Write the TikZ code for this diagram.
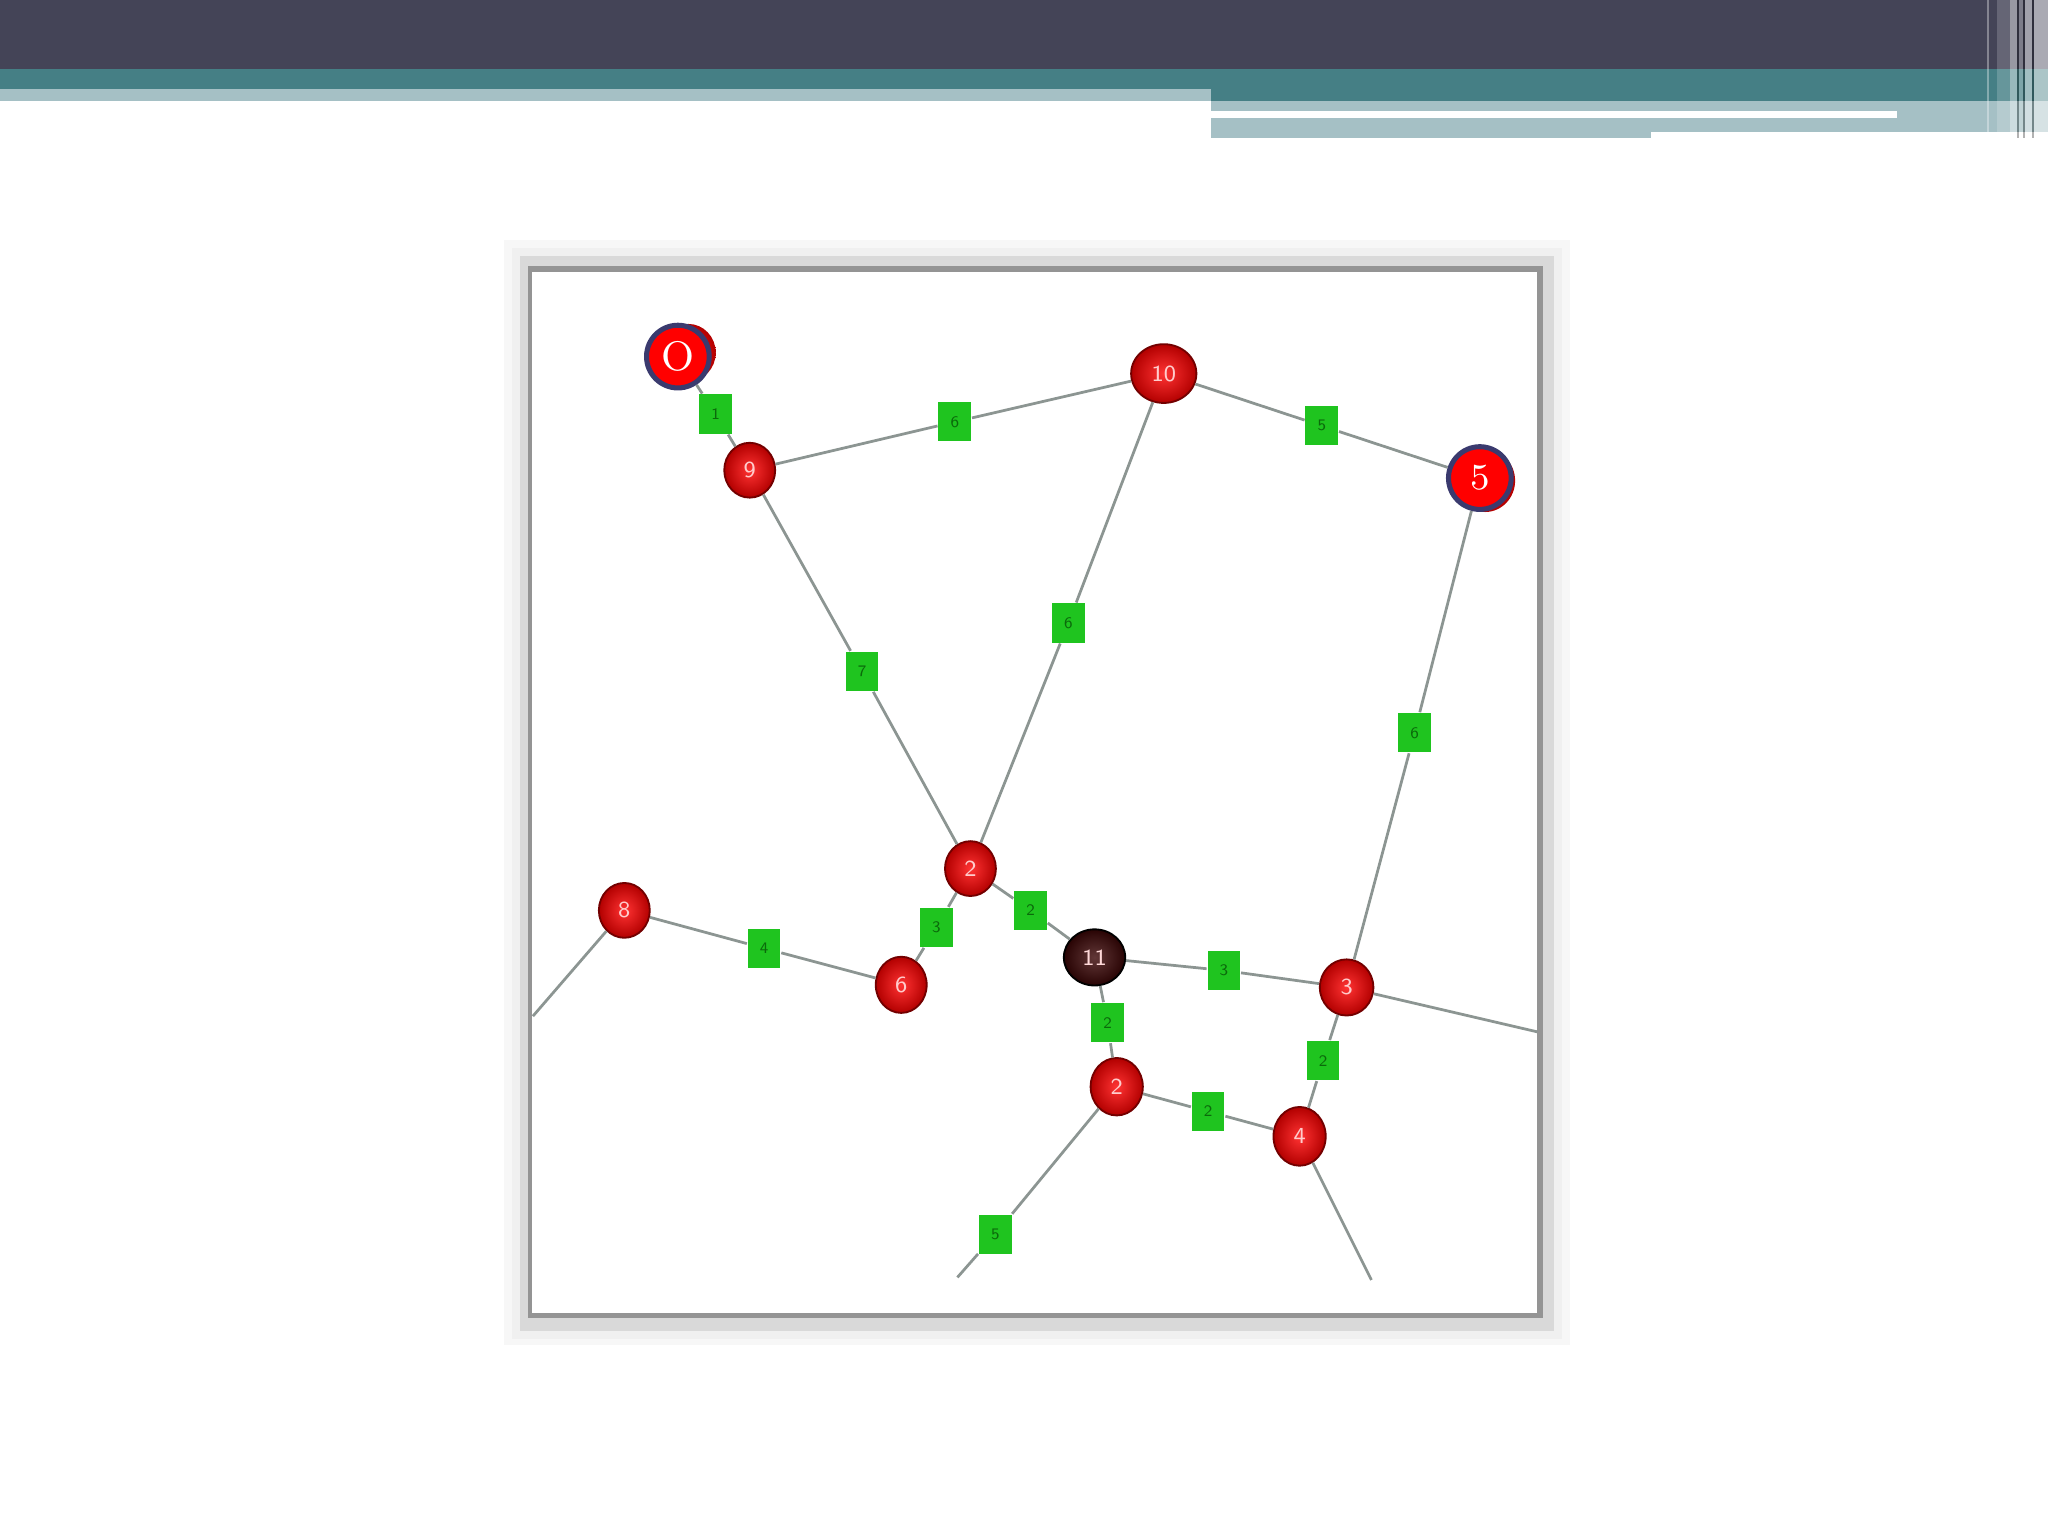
\documentclass[tikz,border=0pt]{standalone}
\usetikzlibrary{shapes.geometric}
\definecolor{hdark}{HTML}{444457}
\definecolor{hteal}{HTML}{457F85}
\definecolor{hlight}{HTML}{A5C0C5}
\definecolor{edgegray}{HTML}{8C9592}
\definecolor{gfill}{HTML}{1FC41F}
\definecolor{gtext}{HTML}{0B6A0B}
\definecolor{navy}{HTML}{3A3A6E}
\definecolor{maroonball}{HTML}{3A0505}
\begin{document}
\begin{tikzpicture}[x=0.1mm,y=-0.1mm,
  ball/.style={ellipse, inner sep=0pt, minimum width=3.9mm, minimum height=4.2mm,
    draw=red!45!black, line width=0.4pt, shading=radial,
    inner color=red!80!white, outer color=red!70!black,
    text=red!20!white, font=\sffamily\fontsize{5}{5}\selectfont},
  darkball/.style={ball, inner color=maroonball!80!white, outer color=maroonball!70!black,
    draw=black, text=red!15!white},
  hiddenball/.style={ellipse, inner sep=0pt, shading=radial,
    inner color=red!90!white, outer color=red!70!black},
  overball/.style={circle, inner sep=0pt, minimum size=4.8mm, fill=red, draw=navy,
    line width=1.1pt, text=white, font=\fontsize{9}{9}\selectfont},
  gbox/.style={rectangle, inner sep=0pt, minimum width=2.5mm, minimum height=3mm,
    fill=gfill, text=gtext, font=\sffamily\fontsize{3.5}{3.5}\selectfont},
  link/.style={draw=edgegray, line width=0.6pt}
]
\useasboundingbox (0,0) rectangle (1568,1176);
\fill[white] (0,0) rectangle (1568,1176);
% ---------- header ----------
\fill[hdark] (0,0) rectangle (1568,53);
\fill[hteal] (0,53) rectangle (1568,68);
\fill[hteal] (927,68) rectangle (1568,77);
\fill[hlight] (0,68) rectangle (927,77);
\fill[hlight] (927,77) rectangle (1568,101);
\fill[hlight] (927,101) rectangle (1264,106);
\fill[white] (927,85) rectangle (1452,90);
% right-hand stripes
\fill[white,opacity=0.35] (1521,0) rectangle (1523,106);
\fill[white,opacity=0.18] (1529,0) rectangle (1539,106);
\fill[white,opacity=0.45] (1539,0) rectangle (1544,106);
\fill[black,opacity=0.30] (1544,0) rectangle (1545.5,106);
\fill[white,opacity=0.30] (1545.5,0) rectangle (1549,106);
\fill[black,opacity=0.30] (1549,0) rectangle (1550.5,106);
\fill[white,opacity=0.50] (1550.5,0) rectangle (1556,106);
\fill[black,opacity=0.30] (1556,0) rectangle (1557,106);
\fill[white,opacity=0.55] (1557,0) rectangle (1568,106);
% ---------- picture frame ----------
\fill[black!3] (386,184) rectangle (1202,1030);
\fill[black!6] (392,190) rectangle (1196,1025);
\fill[black!15] (398,196) rectangle (1190,1019);
\fill[black!42] (404,204) rectangle (1181,1009);
\fill[white] (407,208) rectangle (1177,1005);
% ---------- hidden balls under the overlays ----------
\node[hiddenball, minimum width=4.2mm, minimum height=4.4mm] (hO) at (527,270) {};
\node[hiddenball, minimum width=4.6mm, minimum height=4.8mm] (h5) at (1137,368) {};
% ---------- vertices ----------
\node[overball] (nO) at (519,273) {O};
\node[overball, font=\fontsize{8}{8}\selectfont] (n5) at (1133,366) {5};
\node[ball] (n9) at (574,360) {9};
\node[ball, minimum width=5mm, minimum height=4.5mm] (n10) at (891,286) {10};
\node[ball] (n2a) at (743,665) {2};
\node[ball] (n8) at (478,697) {8};
\node[ball, minimum height=4.3mm] (n6) at (690,754) {6};
\node[darkball, minimum width=4.7mm, minimum height=4.3mm] (n11) at (838,733) {11};
\node[ball, minimum width=4.1mm, minimum height=4.3mm] (n3) at (1031,756) {3};
\node[ball, minimum width=4mm, minimum height=4.4mm] (n2b) at (855,832) {2};
\node[ball, minimum width=4mm, minimum height=4.5mm] (n4) at (995,870) {4};
% ---------- edge weights ----------
\node[gbox] (g1) at (548,317) {1};
\node[gbox] (g2) at (731,323) {6};
\node[gbox] (g3) at (1012,326) {5};
\node[gbox] (g4) at (818,477) {6};
\node[gbox] (g5) at (660,514) {7};
\node[gbox] (g6) at (1083,561) {6};
\node[gbox] (g7) at (717,710) {3};
\node[gbox] (g8) at (789,697) {2};
\node[gbox] (g9) at (585,726) {4};
\node[gbox] (g10) at (937,743) {3};
\node[gbox] (g11) at (848,783) {2};
\node[gbox] (g12) at (1013,812) {2};
\node[gbox] (g13) at (925,851) {2};
\node[gbox] (g14) at (762,945) {5};
% ---------- loose ends ----------
\coordinate (c8) at (408,778);
\coordinate (c3) at (1177,790);
\coordinate (c2b) at (733,978);
\coordinate (c4) at (1050,980);
% ---------- edges ----------
\draw[link] (nO) -- (g1) -- (n9);
\draw[link] (n9) -- (g2) -- (n10);
\draw[link] (n10) -- (g3) -- (n5);
\draw[link] (n10) -- (g4) -- (n2a);
\draw[link] (n9) -- (g5) -- (n2a);
\draw[link] (n5) -- (g6) -- (n3);
\draw[link] (n2a) -- (g7) -- (n6);
\draw[link] (n2a) -- (g8) -- (n11);
\draw[link] (n8) -- (g9) -- (n6);
\draw[link] (n11) -- (g10) -- (n3);
\draw[link] (n11) -- (g11) -- (n2b);
\draw[link] (n3) -- (g12) -- (n4);
\draw[link] (n2b) -- (g13) -- (n4);
\draw[link] (n2b) -- (g14) -- (c2b);
\draw[link] (n8) -- (c8);
\draw[link] (n3) -- (c3);
\draw[link] (n4) -- (c4);
\end{tikzpicture}
\end{document}
